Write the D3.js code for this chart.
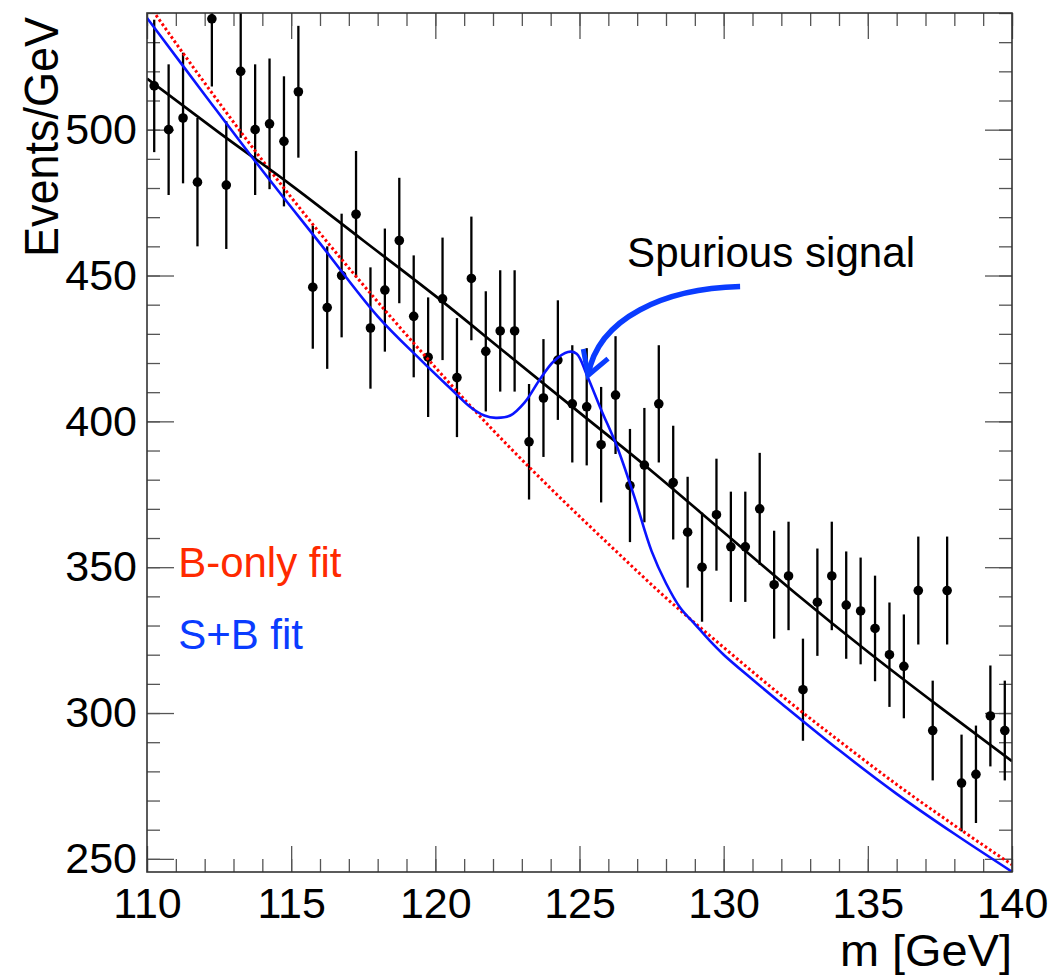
<!DOCTYPE html>
<html><head><meta charset="utf-8">
<script src="https://cdn.jsdelivr.net/npm/d3@7"></script>
<style>body{margin:0;background:#fff}</style>
</head><body>
<svg id="c" width="1055" height="976"></svg>
<script>
// ---------- data ----------
const massBins = [110.25,110.75,111.25,111.75,112.25,112.75,113.25,113.75,114.25,114.75,
  115.25,115.75,116.25,116.75,117.25,117.75,118.25,118.75,119.25,119.75,
  120.25,120.75,121.25,121.75,122.25,122.75,123.25,123.75,124.25,124.75,
  125.25,125.75,126.25,126.75,127.25,127.75,128.25,128.75,129.25,129.75,
  130.25,130.75,131.25,131.75,132.25,132.75,133.25,133.75,134.25,134.75,
  135.25,135.75,136.25,136.75,137.25,137.75,138.25,138.75,139.25,139.75];
const eventCounts = [515,500,504,482,538,481,520,500,502,496,
  513,446,439,450,471,432,445,462,436,422,
  442,415,449,424,431,431,393,408,421,406,
  405,392,409,378,385,406,379,362,350,368,
  357,357,370,344,347,308,338,347,337,335,
  329,320,316,342,294,342,276,279,299,294];
const eventErrors = [22.7,22.4,22.4,22.0,23.2,21.9,22.8,22.4,22.4,22.3,
  22.6,21.1,21.0,21.2,21.7,20.8,21.1,21.5,20.9,20.5,
  21.0,20.4,21.2,20.6,20.8,20.8,19.8,20.2,20.5,20.1,
  20.1,19.8,20.2,19.4,19.6,20.1,19.5,19.0,18.7,19.2,
  18.9,18.9,19.2,18.5,18.6,17.5,18.4,18.6,18.4,18.3,
  18.1,17.9,17.8,18.5,17.1,18.5,16.6,16.7,17.3,17.1];

const dataFitMass   = [110,112.5,115,117.5,120,122.5,125,127.5,130,132.5,135,137.5,140];
const dataFitValues = [517.5,499,481,462,443,423,403,383,362,341,321,302,283.5];

const bOnlyMass   = [110,112,114,116,118,120,122,124,126,128,130,132,134,136,138,140];
const bOnlyValues = [543.6,516,489.5,464.5,441,418.5,397,377,358,339.5,322.5,306,290.5,275.5,261.5,248];

const sbMass   = [110,112,114,116,118,119.5,120.5,121.2,121.7,122.1,122.6,123.1,123.6,124.1,124.6,124.9,
  125.25,125.75,126.3,126.9,127.5,128,128.5,129,129.5,130,131,132,134,136,138,140];
const sbValues = [538.3,512,486,461,436,421,411.5,405,402,401.2,402,406.5,414,420.5,423.8,423.2,
  416,404,391.4,374.2,355.5,344.5,336,330.5,325,320,311.5,303.3,287.3,272.3,258.6,245.6];

const xTickLabels = [110,115,120,125,130,135,140];
const yTickLabels = [250,300,350,400,450,500];

// ---------- layout ----------
const W = 1055, H = 976;
const L = 147, R = 1012, T = 13, B = 872;
const FONT = "'Liberation Sans', Arial, Helvetica, sans-serif";
const svg = d3.select('#c');
svg.append('rect').attr('width', W).attr('height', H).attr('fill', '#fff');

const x = d3.scaleLinear().domain([110, 140]).range([L, R]);
const y = d3.scaleLinear().domain([245.5, 540]).range([B, T]);

const xMinor = d3.range(110, 141, 1);
const yMinor = d3.range(250, 541, 10);

function styleAxis(g) {
  g.select('.domain').remove();
  g.selectAll('.tick line').attr('stroke', '#555').attr('stroke-width', 1.3);
  g.selectAll('.tick text').attr('font-size', 43).attr('font-family', FONT).attr('fill', '#000');
}
// bottom
svg.append('g').attr('transform', `translate(0,${B})`)
  .call(d3.axisBottom(x).tickValues(xMinor).tickSizeInner(-13).tickSizeOuter(0).tickFormat(''))
  .call(styleAxis);
svg.append('g').attr('transform', `translate(0,${B})`)
  .call(d3.axisBottom(x).tickValues(xTickLabels).tickSizeInner(-26).tickSizeOuter(0).tickPadding(15).tickFormat(d3.format('d')))
  .call(styleAxis);
// top
svg.append('g').attr('transform', `translate(0,${T})`)
  .call(d3.axisTop(x).tickValues(xMinor).tickSizeInner(-13).tickSizeOuter(0).tickFormat(''))
  .call(styleAxis);
svg.append('g').attr('transform', `translate(0,${T})`)
  .call(d3.axisTop(x).tickValues(xTickLabels).tickSizeInner(-26).tickSizeOuter(0).tickFormat(''))
  .call(styleAxis);
// left
svg.append('g').attr('transform', `translate(${L},0)`)
  .call(d3.axisLeft(y).tickValues(yMinor).tickSizeInner(-13).tickSizeOuter(0).tickFormat(''))
  .call(styleAxis);
svg.append('g').attr('transform', `translate(${L},0)`)
  .call(d3.axisLeft(y).tickValues(yTickLabels).tickSizeInner(-27).tickSizeOuter(0).tickPadding(10).tickFormat(d3.format('d')))
  .call(styleAxis);
// right
svg.append('g').attr('transform', `translate(${R},0)`)
  .call(d3.axisRight(y).tickValues(yMinor).tickSizeInner(-13).tickSizeOuter(0).tickFormat(''))
  .call(styleAxis);
svg.append('g').attr('transform', `translate(${R},0)`)
  .call(d3.axisRight(y).tickValues(yTickLabels).tickSizeInner(-27).tickSizeOuter(0).tickFormat(''))
  .call(styleAxis);

// clip
svg.append('clipPath').attr('id', 'frameClip').append('rect')
  .attr('x', L).attr('y', T).attr('width', R - L).attr('height', B - T);
const plot = svg.append('g').attr('clip-path', 'url(#frameClip)');

// data points
const pts = massBins.map((m, i) => ({ m, v: eventCounts[i], e: eventErrors[i] }));
plot.append('g').selectAll('line').data(pts).join('line')
  .attr('x1', d => x(d.m)).attr('x2', d => x(d.m))
  .attr('y1', d => y(d.v - d.e)).attr('y2', d => y(d.v + d.e))
  .attr('stroke', '#000').attr('stroke-width', 2.3);
plot.append('g').selectAll('circle').data(pts).join('circle')
  .attr('cx', d => x(d.m)).attr('cy', d => y(d.v)).attr('r', 4.8).attr('fill', '#000');

// curves
const line = d3.line().x(d => x(d[0])).y(d => y(d[1]));
plot.append('path').datum(bOnlyMass.map((m, i) => [m, bOnlyValues[i]]))
  .attr('d', line.curve(d3.curveMonotoneX)).attr('fill', 'none')
  .attr('stroke', '#ff0000').attr('stroke-width', 3).attr('stroke-dasharray', '2.6,2.6');
plot.append('path').datum(dataFitMass.map((m, i) => [m, dataFitValues[i]]))
  .attr('d', line.curve(d3.curveMonotoneX)).attr('fill', 'none')
  .attr('stroke', '#000').attr('stroke-width', 2.7);
plot.append('path').datum(sbMass.map((m, i) => [m, sbValues[i]]))
  .attr('d', line.curve(d3.curveCatmullRom.alpha(0.5))).attr('fill', 'none')
  .attr('stroke', '#0a14ff').attr('stroke-width', 2.6);

// annotation arrow (data units)
const arrowStart = [130.57, 446.2], arrowC1 = [127.97, 445.6], arrowC2 = [125.64, 435.5], arrowTip = [125.30, 415.8];
const barbRight = [125.99, 421.5], barbLeft = [125.13, 424.8];
const P = p => `${x(p[0])},${y(p[1])}`;
svg.append('path')
  .attr('d', `M${P(arrowStart)} C${P(arrowC1)} ${P(arrowC2)} ${P(arrowTip)}`)
  .attr('fill', 'none').attr('stroke', '#0a3cff').attr('stroke-width', 5.5);
svg.append('path')
  .attr('d', `M${P(barbRight)} L${P(arrowTip)} L${P(barbLeft)}`)
  .attr('fill', 'none').attr('stroke', '#0a3cff').attr('stroke-width', 5).attr('stroke-linejoin', 'miter');

// texts
svg.append('text').attr('x', x(126.65)).attr('y', y(453))
  .attr('font-family', FONT).attr('font-size', 42).attr('fill', '#000')
  .attr('textLength', 288).attr('lengthAdjust', 'spacingAndGlyphs')
  .text('Spurious signal');
svg.append('text').attr('x', x(111.08)).attr('y', y(346.7))
  .attr('font-family', FONT).attr('font-size', 42).attr('fill', '#ff2a00')
  .text('B-only fit');
svg.append('text').attr('x', x(111.08)).attr('y', y(322))
  .attr('font-family', FONT).attr('font-size', 42).attr('fill', '#0a3cff')
  .text('S+B fit');

// axis titles
svg.append('text').attr('transform', `translate(58,17) rotate(-90)`)
  .attr('text-anchor', 'end').attr('font-family', FONT).attr('font-size', 48).attr('fill', '#000')
  .attr('textLength', 240).attr('lengthAdjust', 'spacingAndGlyphs')
  .text('Events/GeV');
svg.append('text').attr('x', R).attr('y', 966).attr('text-anchor', 'end')
  .attr('font-family', FONT).attr('font-size', 44).attr('fill', '#000')
  .attr('textLength', 172).attr('lengthAdjust', 'spacingAndGlyphs')
  .text('m [GeV]');

// frame
svg.append('rect').attr('x', L).attr('y', T).attr('width', R - L).attr('height', B - T)
  .attr('fill', 'none').attr('stroke', '#333').attr('stroke-width', 1.6);
</script>
</body></html>
